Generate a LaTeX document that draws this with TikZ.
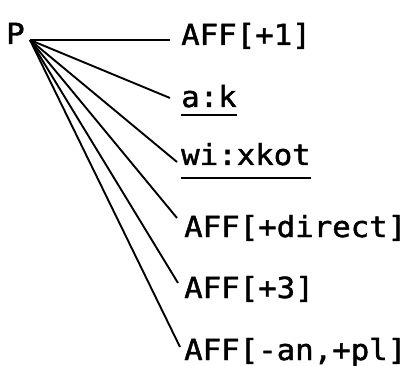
\documentclass[tikz,border=0pt]{standalone}
\usepackage{fontspec}
\newfontfamily\mono{DejaVu Sans Mono}[FakeStretch=1.06,FakeBold=1.5]
\begin{document}
\begin{tikzpicture}[x=1pt,y=-1pt,
  lab/.style={anchor=base west, inner sep=0pt, font=\mono\fontsize{29}{31}\selectfont},
  conn/.style={line width=1.9pt},
  uline/.style={line width=2.8pt}]
\useasboundingbox (0,0) rectangle (412,366);
\node[lab] (P) at (6,44) {P};
\coordinate (apex) at (30,40);
\node[lab] (l1) at (181,45) {AFF[+1]};
\node[lab] (l2) at (181,107) {a:k};
\node[lab] (l3) at (181,165) {wi:xkot};
\node[lab] (l4) at (184,237) {AFF[+direct]};
\node[lab] (l5) at (184,298) {AFF[+3]};
\node[lab] (l6) at (184,360) {AFF[-an,+pl]};
\draw[conn] (apex) -- ([shift={(-11,-5)}]l1.base west);
\draw[conn] (apex) -- ([shift={(-11,-9)}]l2.base west);
\draw[conn] (apex) -- ([shift={(-4,-3)}]l3.base west);
\draw[conn] (apex) -- ([shift={(-7,-19)}]l4.base west);
\draw[conn] (apex) -- ([shift={(-6,-15)}]l5.base west);
\draw[conn] (apex) -- ([shift={(-4,-13)}]l6.base west);
\draw[uline] ([shift={(0,8)}]l2.base west) -- ([shift={(0,8)}]l2.base east);
\draw[uline] ([shift={(0,13)}]l3.base west) -- ([shift={(0,13)}]l3.base east);
\end{tikzpicture}
\end{document}
